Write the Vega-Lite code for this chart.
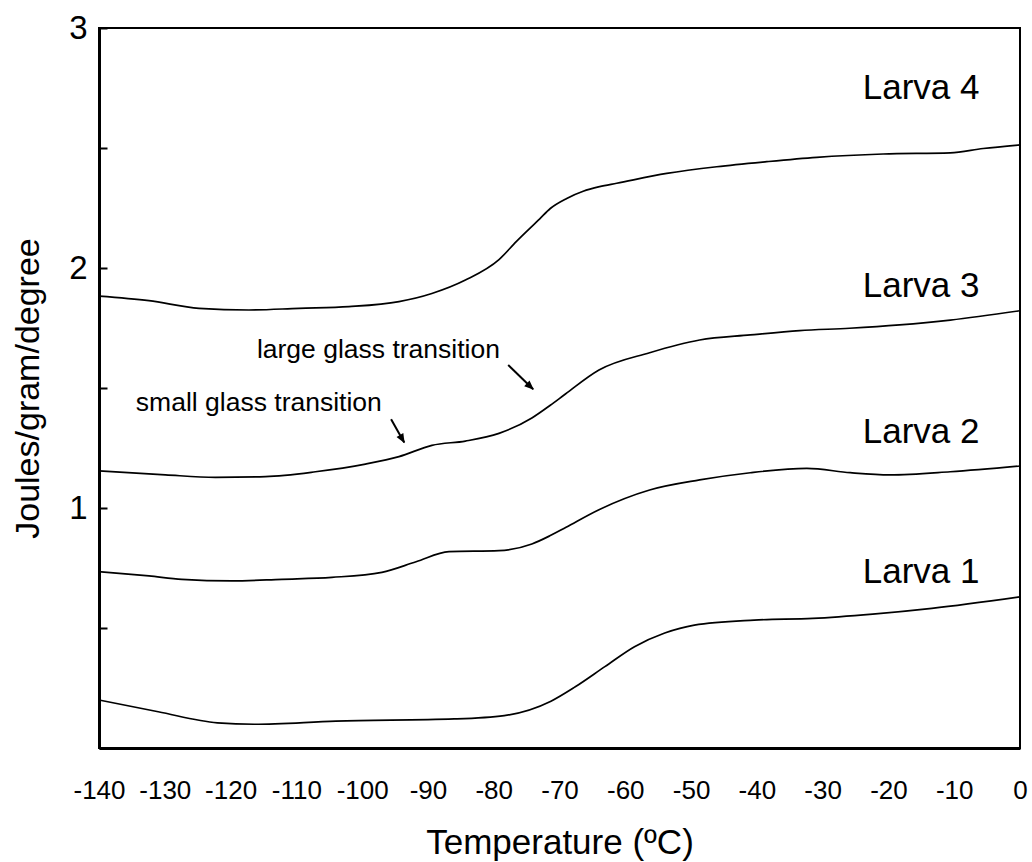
{
  "$schema": "https://vega.github.io/schema/vega-lite/v6.json",
  "width": 921,
  "height": 720,
  "autosize": "none",
  "padding": {"left": 99, "top": 28, "right": 12, "bottom": 114},
  "background": "white",
  "config": {
    "view": {"stroke": "black", "strokeWidth": 2},
    "font": "Liberation Sans",
    "axis": {"grid": false, "domainColor": "black", "domainWidth": 3, "labelColor": "black", "titleColor": "black", "labelFont": "Liberation Sans", "titleFont": "Liberation Sans", "titleFontWeight": "normal"}
  },
  "datasets": {
    "curves": [
      {"larva": "Larva 1", "T": -140, "J": 0.200},
      {"larva": "Larva 1", "T": -131, "J": 0.151},
      {"larva": "Larva 1", "T": -122, "J": 0.105},
      {"larva": "Larva 1", "T": -116.4, "J": 0.099},
      {"larva": "Larva 1", "T": -104, "J": 0.112},
      {"larva": "Larva 1", "T": -86, "J": 0.121},
      {"larva": "Larva 1", "T": -78.4, "J": 0.135},
      {"larva": "Larva 1", "T": -71.3, "J": 0.195},
      {"larva": "Larva 1", "T": -67.6, "J": 0.255},
      {"larva": "Larva 1", "T": -63.1, "J": 0.339},
      {"larva": "Larva 1", "T": -58.6, "J": 0.422},
      {"larva": "Larva 1", "T": -54, "J": 0.479},
      {"larva": "Larva 1", "T": -49.5, "J": 0.512},
      {"larva": "Larva 1", "T": -40.4, "J": 0.533},
      {"larva": "Larva 1", "T": -31.5, "J": 0.540},
      {"larva": "Larva 1", "T": -22.4, "J": 0.558},
      {"larva": "Larva 1", "T": -13.4, "J": 0.582},
      {"larva": "Larva 1", "T": 0, "J": 0.630},

      {"larva": "Larva 2", "T": -140, "J": 0.735},
      {"larva": "Larva 2", "T": -132.4, "J": 0.717},
      {"larva": "Larva 2", "T": -127.4, "J": 0.703},
      {"larva": "Larva 2", "T": -119.8, "J": 0.696},
      {"larva": "Larva 2", "T": -112.2, "J": 0.703},
      {"larva": "Larva 2", "T": -104.6, "J": 0.711},
      {"larva": "Larva 2", "T": -97, "J": 0.732},
      {"larva": "Larva 2", "T": -91.8, "J": 0.776},
      {"larva": "Larva 2", "T": -86.8, "J": 0.818},
      {"larva": "Larva 2", "T": -79.2, "J": 0.822},
      {"larva": "Larva 2", "T": -74.2, "J": 0.850},
      {"larva": "Larva 2", "T": -71.4, "J": 0.885},
      {"larva": "Larva 2", "T": -69, "J": 0.920},
      {"larva": "Larva 2", "T": -64, "J": 0.993},
      {"larva": "Larva 2", "T": -56.3, "J": 1.075},
      {"larva": "Larva 2", "T": -48.7, "J": 1.117},
      {"larva": "Larva 2", "T": -41, "J": 1.147},
      {"larva": "Larva 2", "T": -32.4, "J": 1.165},
      {"larva": "Larva 2", "T": -25.8, "J": 1.147},
      {"larva": "Larva 2", "T": -19.8, "J": 1.138},
      {"larva": "Larva 2", "T": -10.6, "J": 1.151},
      {"larva": "Larva 2", "T": 0, "J": 1.175},

      {"larva": "Larva 3", "T": -140, "J": 1.155},
      {"larva": "Larva 3", "T": -129.9, "J": 1.138},
      {"larva": "Larva 3", "T": -122.3, "J": 1.128},
      {"larva": "Larva 3", "T": -114.7, "J": 1.131},
      {"larva": "Larva 3", "T": -107.1, "J": 1.151},
      {"larva": "Larva 3", "T": -99.5, "J": 1.183},
      {"larva": "Larva 3", "T": -94.4, "J": 1.214},
      {"larva": "Larva 3", "T": -89.4, "J": 1.261},
      {"larva": "Larva 3", "T": -84.3, "J": 1.279},
      {"larva": "Larva 3", "T": -79.2, "J": 1.311},
      {"larva": "Larva 3", "T": -74.2, "J": 1.375},
      {"larva": "Larva 3", "T": -71.4, "J": 1.428},
      {"larva": "Larva 3", "T": -69.1, "J": 1.475},
      {"larva": "Larva 3", "T": -64, "J": 1.575},
      {"larva": "Larva 3", "T": -56.3, "J": 1.647},
      {"larva": "Larva 3", "T": -48.7, "J": 1.700},
      {"larva": "Larva 3", "T": -41, "J": 1.721},
      {"larva": "Larva 3", "T": -33.5, "J": 1.739},
      {"larva": "Larva 3", "T": -25.9, "J": 1.749},
      {"larva": "Larva 3", "T": -18.3, "J": 1.763},
      {"larva": "Larva 3", "T": -10.6, "J": 1.783},
      {"larva": "Larva 3", "T": 0, "J": 1.822},

      {"larva": "Larva 4", "T": -140, "J": 1.883},
      {"larva": "Larva 4", "T": -132.4, "J": 1.864},
      {"larva": "Larva 4", "T": -124.8, "J": 1.832},
      {"larva": "Larva 4", "T": -117.2, "J": 1.825},
      {"larva": "Larva 4", "T": -109.6, "J": 1.832},
      {"larva": "Larva 4", "T": -102, "J": 1.839},
      {"larva": "Larva 4", "T": -94.4, "J": 1.860},
      {"larva": "Larva 4", "T": -89.4, "J": 1.894},
      {"larva": "Larva 4", "T": -84.3, "J": 1.950},
      {"larva": "Larva 4", "T": -79.2, "J": 2.035},
      {"larva": "Larva 4", "T": -76.5, "J": 2.112},
      {"larva": "Larva 4", "T": -73, "J": 2.205},
      {"larva": "Larva 4", "T": -71.4, "J": 2.248},
      {"larva": "Larva 4", "T": -68.9, "J": 2.290},
      {"larva": "Larva 4", "T": -66.4, "J": 2.320},
      {"larva": "Larva 4", "T": -63.9, "J": 2.339},
      {"larva": "Larva 4", "T": -61.3, "J": 2.353},
      {"larva": "Larva 4", "T": -53.7, "J": 2.394},
      {"larva": "Larva 4", "T": -46.1, "J": 2.422},
      {"larva": "Larva 4", "T": -38.5, "J": 2.443},
      {"larva": "Larva 4", "T": -30.9, "J": 2.461},
      {"larva": "Larva 4", "T": -20.8, "J": 2.475},
      {"larva": "Larva 4", "T": -10.6, "J": 2.480},
      {"larva": "Larva 4", "T": -5.6, "J": 2.498},
      {"larva": "Larva 4", "T": 0, "J": 2.513}
    ],
    "names": [
      {"label": "Larva 4", "T": -23.9, "J": 2.75},
      {"label": "Larva 3", "T": -23.9, "J": 1.925},
      {"label": "Larva 2", "T": -23.9, "J": 1.315},
      {"label": "Larva 1", "T": -23.9, "J": 0.735}
    ],
    "notes": [
      {"label": "large glass transition", "T": -116.0, "J": 1.658},
      {"label": "small glass transition", "T": -134.4, "J": 1.4375}
    ],
    "largeArrow": [{"T": -77.8, "J": 1.596, "T2": -74.0, "J2": 1.495}],
    "smallArrow": [{"T": -95.6, "J": 1.37, "T2": -93.6, "J2": 1.273}]
  },
  "layer": [
    {
      "data": {"name": "curves"},
      "mark": {"type": "line", "color": "black", "strokeWidth": 1.7, "interpolate": "monotone"},
      "encoding": {
        "x": {
          "field": "T", "type": "quantitative",
          "scale": {"domain": [-140, 0], "nice": false, "zero": false},
          "axis": {
            "title": "Temperature (ºC)",
            "values": [-140, -130, -120, -110, -100, -90, -80, -70, -60, -50, -40, -30, -20, -10, 0],
            "labelExpr": "'' + datum.value",
            "ticks": false,
            "labelFlush": false,
            "labelFontSize": 26,
            "labelBaseline": "middle",
            "labelPadding": 42,
            "titleFontSize": 35,
            "titleBaseline": "middle",
            "titleY": 94
          }
        },
        "y": {
          "field": "J", "type": "quantitative",
          "scale": {"domain": [0, 3], "nice": false},
          "axis": {
            "title": "Joules/gram/degree",
            "values": [0, 0.5, 1, 1.5, 2, 2.5, 3],
            "labelExpr": "datum.value >= 1 && datum.value % 1 == 0 ? '' + datum.value : ''",
            "tickSize": -8,
            "tickWidth": 2,
            "tickColor": "black",
            "labelPadding": 20,
            "labelFontSize": 33,
            "labelFlush": false,
            "titleFontSize": 34,
            "titleAngle": -90,
            "titleBaseline": "middle",
            "titleAlign": "center",
            "titleX": -71,
            "titleY": 360
          }
        },
        "detail": {"field": "larva", "type": "nominal"}
      }
    },
    {
      "data": {"name": "names"},
      "mark": {"type": "text", "align": "left", "baseline": "middle", "fontSize": 35, "color": "black"},
      "encoding": {
        "x": {"field": "T", "type": "quantitative"},
        "y": {"field": "J", "type": "quantitative"},
        "text": {"field": "label"}
      }
    },
    {
      "data": {"name": "notes"},
      "mark": {"type": "text", "align": "left", "baseline": "middle", "fontSize": 26.5, "color": "black"},
      "encoding": {
        "x": {"field": "T", "type": "quantitative"},
        "y": {"field": "J", "type": "quantitative"},
        "text": {"field": "label"}
      }
    },
    {
      "data": {"name": "largeArrow"},
      "mark": {"type": "rule", "color": "black", "strokeWidth": 2},
      "encoding": {
        "x": {"field": "T", "type": "quantitative"},
        "y": {"field": "J", "type": "quantitative"},
        "x2": {"field": "T2"},
        "y2": {"field": "J2"}
      }
    },
    {
      "data": {"name": "largeArrow"},
      "mark": {"type": "point", "shape": "M0,-0.1L0.45,1L-0.45,1Z", "filled": true, "color": "black", "size": 300, "opacity": 1, "angle": 133},
      "encoding": {
        "x": {"field": "T2", "type": "quantitative"},
        "y": {"field": "J2", "type": "quantitative"}
      }
    },
    {
      "data": {"name": "smallArrow"},
      "mark": {"type": "rule", "color": "black", "strokeWidth": 2},
      "encoding": {
        "x": {"field": "T", "type": "quantitative"},
        "y": {"field": "J", "type": "quantitative"},
        "x2": {"field": "T2"},
        "y2": {"field": "J2"}
      }
    },
    {
      "data": {"name": "smallArrow"},
      "mark": {"type": "point", "shape": "M0,-0.1L0.45,1L-0.45,1Z", "filled": true, "color": "black", "size": 300, "opacity": 1, "angle": 150},
      "encoding": {
        "x": {"field": "T2", "type": "quantitative"},
        "y": {"field": "J2", "type": "quantitative"}
      }
    }
  ]
}
